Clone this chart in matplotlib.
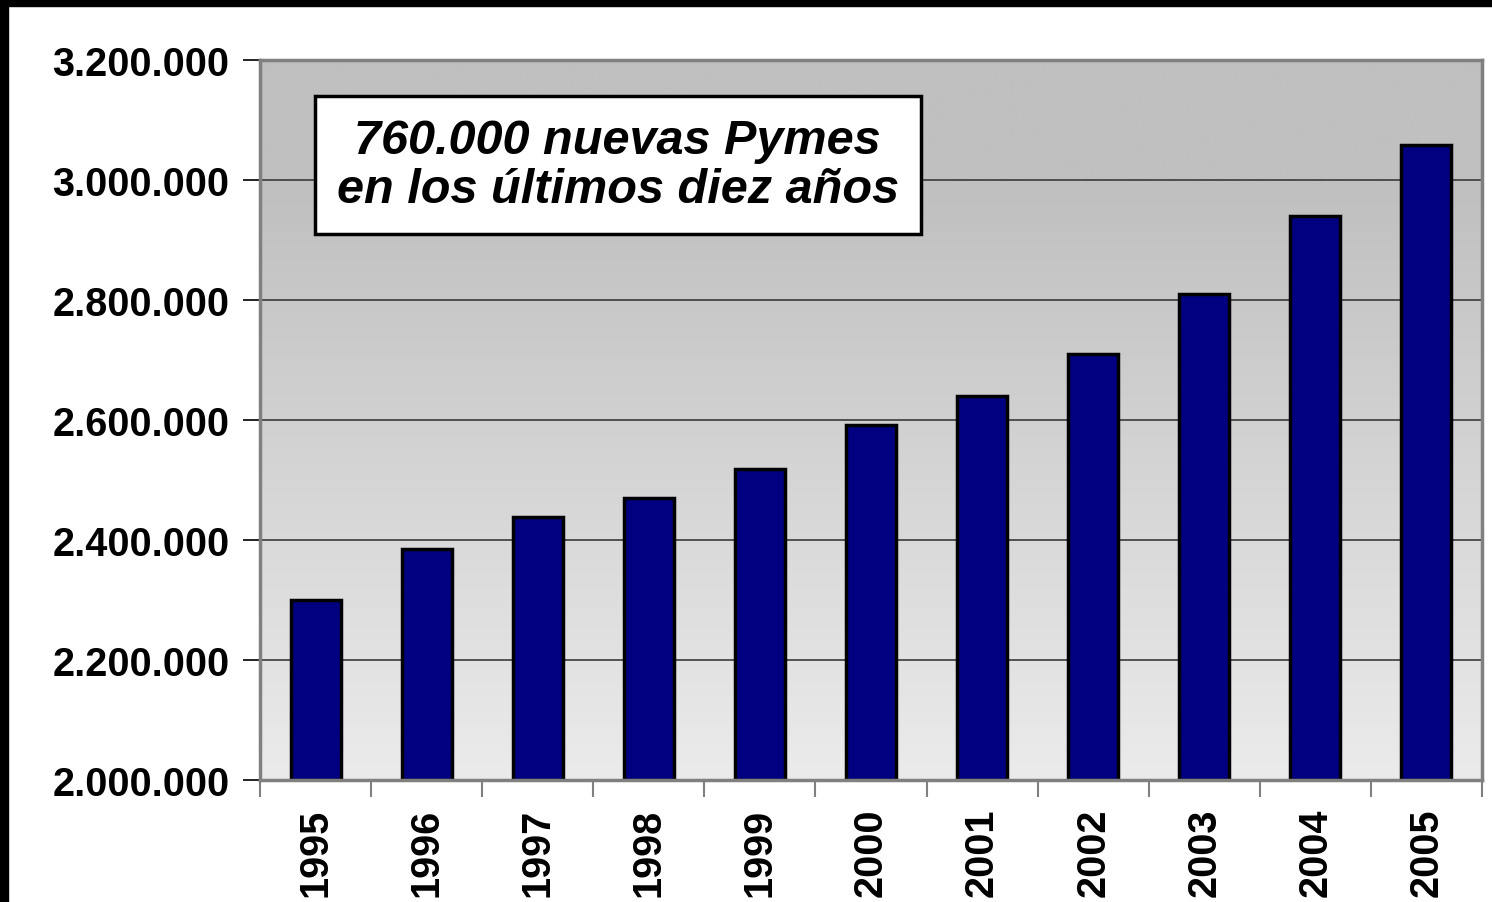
import matplotlib.pyplot as plt
import matplotlib.patches as mpatches
import numpy as np

anios = ["1995", "1996", "1997", "1998", "1999", "2000",
         "2001", "2002", "2003", "2004", "2005"]
pymes = [2300000, 2385000, 2438000, 2470000, 2518000, 2592000,
         2640000, 2710000, 2810000, 2940000, 3058000]
y_ticks = [2000000, 2200000, 2400000, 2600000, 2800000, 3000000, 3200000]
nota = "760.000 nuevas Pymes\nen los últimos diez años"

plt.rcParams['font.family'] = ['Liberation Sans', 'DejaVu Sans']

W, H = 1492, 903
fig = plt.figure(figsize=(W / 100, H / 100), dpi=100)
fig.patch.set_facecolor('white')

# marco negro arriba e izquierda
fig.patches.append(mpatches.Rectangle((0, 1 - 7 / H), 1, 7 / H, transform=fig.transFigure,
                                      color='black', zorder=0))
fig.patches.append(mpatches.Rectangle((0, 0), 8 / W, 1, transform=fig.transFigure,
                                      color='black', zorder=0))

ax = fig.add_axes([260 / W, 1 - 781 / H, (1482 - 260) / W, (781 - 61) / H])

x = np.arange(len(anios))
xmin, xmax = -0.5, len(anios) - 0.5

# fondo degradado (fila 0 = arriba)
t = np.linspace(0, 1, 256)
g = np.clip((t - 0.18) / 0.82, 0, 1)
tono = 0xc0 / 255 + g * (0xeb - 0xc0) / 255
grad = np.dstack([tono, tono, tono]).reshape(256, 1, 3)
ax.imshow(grad, extent=(xmin, xmax, y_ticks[0], y_ticks[-1]), origin='upper',
          aspect='auto', zorder=0, interpolation='bilinear')
ax.set_xlim(xmin, xmax)
ax.set_ylim(y_ticks[0], y_ticks[-1])

for yv in y_ticks[1:-1]:
    ax.axhline(yv, color='#3a3a3a', linewidth=1.2, zorder=1)

ax.bar(x, [v - y_ticks[0] for v in pymes], bottom=y_ticks[0], width=0.45,
       color='#000080', edgecolor='black', linewidth=2.5, zorder=2)

ax.set_yticks(y_ticks)
ax.set_yticklabels([f"{v:,}".replace(",", ".") for v in y_ticks],
                   fontsize=28.5, fontweight='bold')
ax.tick_params(axis='y', length=12, width=1.2, color='black', pad=10)

ax.set_xticks(x)
ax.set_xticklabels(anios, rotation=90, fontsize=28.5, fontweight='bold', va='top')
ax.tick_params(axis='x', length=0, pad=20)
ax.set_xticks(np.arange(len(anios) + 1) - 0.5, minor=True)
ax.tick_params(axis='x', which='minor', length=12, width=1.5, color='#808080')

for lado in ['top', 'right', 'left', 'bottom']:
    ax.spines[lado].set_color('#808080')
    ax.spines[lado].set_linewidth(2.5)

ax.text(2.72, 3025000, nota, fontsize=35, fontweight='bold', style='italic',
        ha='center', va='center', linespacing=1.12, zorder=5,
        bbox=dict(boxstyle='square,pad=0.45', fc='white', ec='black', lw=2.5))

fig.savefig('out.png', dpi=100, facecolor='white')
